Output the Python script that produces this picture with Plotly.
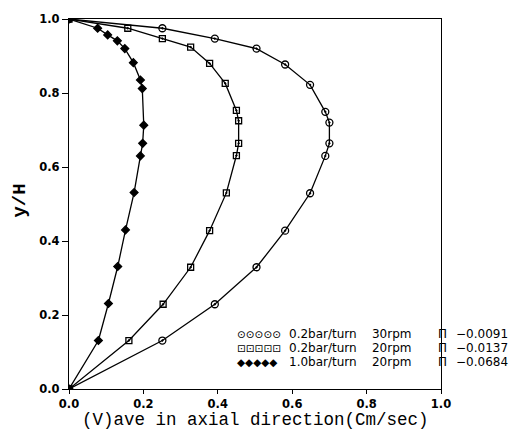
import plotly.graph_objects as go

# Series: 0.2bar/turn 30rpm (circles)
y_c = [0.0, 0.131, 0.229, 0.329, 0.428, 0.529, 0.630, 0.664, 0.720, 0.749, 0.822, 0.877, 0.920, 0.947, 0.975, 1.0]
v_c = [0.0, 0.251, 0.392, 0.504, 0.581, 0.648, 0.689, 0.700, 0.700, 0.689, 0.648, 0.581, 0.504, 0.392, 0.251, 0.0]

# Series: 0.2bar/turn 20rpm (squares)
y_s = [0.0, 0.131, 0.229, 0.329, 0.428, 0.530, 0.631, 0.664, 0.725, 0.753, 0.826, 0.880, 0.924, 0.947, 0.975, 1.0]
v_s = [0.0, 0.161, 0.253, 0.327, 0.378, 0.423, 0.450, 0.456, 0.456, 0.450, 0.420, 0.378, 0.327, 0.251, 0.158, 0.0]

# Series: 1.0bar/turn 20rpm (diamonds)
y_d = [0.0, 0.131, 0.231, 0.331, 0.430, 0.531, 0.630, 0.664, 0.713, 0.812, 0.835, 0.882, 0.920, 0.941, 0.957, 0.975, 1.0]
v_d = [0.0, 0.079, 0.106, 0.131, 0.152, 0.175, 0.192, 0.198, 0.201, 0.197, 0.192, 0.173, 0.150, 0.130, 0.104, 0.077, 0.0]

labels = ["0.2bar/turn    30rpm", "0.2bar/turn    20rpm", "1.0bar/turn    20rpm"]
legend_glyphs = ["\u2299\u2299\u2299\u2299\u2299", "\u22a1\u22a1\u22a1\u22a1\u22a1", "\u25c6\u25c6\u25c6\u25c6\u25c6"]
pi_vals = ["-0.0091", "-0.0137", "-0.0684"]

x_ticks = [0.0, 0.2, 0.4, 0.6, 0.8, 1.0]
y_ticks = [0.0, 0.2, 0.4, 0.6, 0.8, 1.0]

x_title = "(V)ave in axial direction(Cm/sec)"
y_title = "y/H"

fig = go.Figure()
series = [
    (v_c, y_c, "circle-open-dot", 7),
    (v_s, y_s, "square-open-dot", 6),
    (v_d, y_d, "diamond", 6),
]
for (xv, yv, sym, sz), lab in zip(series, labels):
    fig.add_trace(go.Scatter(
        x=xv, y=yv, mode="lines+markers", name=lab, showlegend=False,
        line=dict(color="black", width=1.3),
        marker=dict(symbol=sym, size=sz, color="black",
                    line=dict(color="black", width=1.3)),
    ))

# Legend rows (drawn as text) and the Pi values to the right of the plot
row_y = [0.1499, 0.112, 0.0741]
for i in range(3):
    fig.add_annotation(
        xref="paper", yref="paper", x=0.446, y=row_y[i],
        text=legend_glyphs[i], showarrow=False, xanchor="left", yanchor="middle",
        font=dict(family="DejaVu Sans", size=10.5, color="black"),
    )
    fig.add_annotation(
        xref="paper", yref="paper", x=0.586, y=row_y[i],
        text=labels[i].replace(" ", "&nbsp;"), showarrow=False, xanchor="left", yanchor="middle",
        font=dict(family="DejaVu Sans", size=12, color="black"),
    )
    fig.add_annotation(
        xref="paper", yref="paper", x=1.004, y=row_y[i],
        text="\u03a0", showarrow=False, xanchor="center", yanchor="middle",
        font=dict(family="DejaVu Sans", size=12, color="black"),
    )
    fig.add_annotation(
        xref="paper", yref="paper", x=1.036, y=row_y[i],
        text=pi_vals[i].replace("-", "\u2212"), showarrow=False,
        xanchor="left", yanchor="middle",
        font=dict(family="DejaVu Sans", size=12, color="black"),
    )

# Axis titles
fig.add_annotation(
    xref="paper", yref="paper", x=0.5, y=-0.0845, text=x_title, showarrow=False,
    xanchor="center", yanchor="middle", borderpad=0,
    font=dict(family="Liberation Mono", size=17.5, color="black"),
)
fig.add_annotation(
    xref="paper", yref="paper", x=-0.132, y=0.509, text=y_title, showarrow=False,
    xanchor="center", yanchor="middle", textangle=-90,
    font=dict(family="Liberation Mono", size=19, color="black", weight="bold"),
)

axis_common = dict(
    showline=True, linecolor="black", linewidth=1.3, mirror=True,
    ticks="outside", tickwidth=1.3, tickcolor="black",
    showgrid=False, zeroline=False,
    tickfont=dict(family="DejaVu Sans", size=11.5, color="black", weight="bold"),
    tickformat=".1f",
)

fig.update_layout(
    width=529, height=435,
    margin=dict(l=69, r=88, t=14, b=46),
    plot_bgcolor="white", paper_bgcolor="white",
    xaxis=dict(range=[0, 1.0], tickvals=x_ticks, ticklen=4, **axis_common),
    yaxis=dict(range=[0, 1.0], tickvals=y_ticks, ticklen=6, **axis_common),
    showlegend=False,
)

fig.write_html("out.html", config={"displayModeBar": False},
               post_script="document.body.style.margin='0';")
